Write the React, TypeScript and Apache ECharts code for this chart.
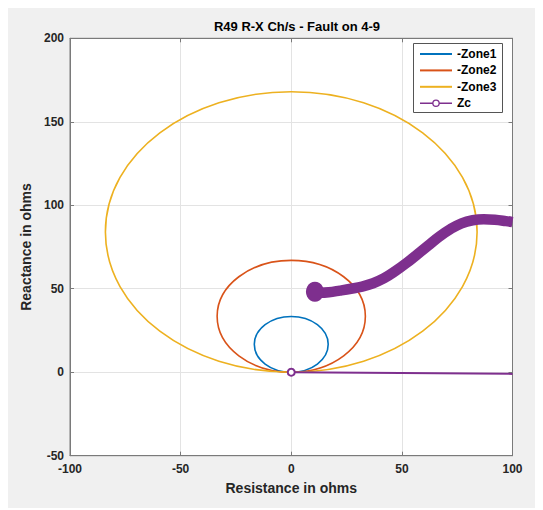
import React, { useEffect, useRef } from "react";
import * as echarts from "echarts";

const TITLE = "R49 R-X Ch/s - Fault on 4-9";
const X_NAME = "Resistance in ohms";
const Y_NAME = "Reactance in ohms";
const LEGEND_NAMES = ["-Zone1", "-Zone2", "-Zone3", "Zc"];
const ZONE_COLORS = ["#0072BD", "#D95319", "#EDB120"];
const ZC_COLOR = "#7E2F8E";

// Zone circles: [centerR, centerX, radius]
const zone1 = [0, 16.7, 16.7];
const zone2 = [0, 33.5, 33.5];
const zone3 = [0, 84, 84];

// Zc trajectory (thick, dense markers)
const zcR = [10.7, 13, 17, 22, 27, 32, 37, 42, 47, 52, 57, 62, 67, 72, 77, 82, 87, 92, 97, 100];
const zcX = [48.2, 47.6, 47.9, 48.9, 50.0, 51.3, 53.3, 56.3, 60.5, 65.3, 70.6, 76.0, 81.3, 85.8, 89.2, 91.0, 91.6, 91.3, 90.5, 89.9];

// Zc thin segment
const zcR2 = [0, 100];
const zcX2 = [0, -1];

const FONT = "Liberation Sans, Arial, Helvetica, sans-serif";

const LINE_ICON = "path://M0,0H32V2H0Z";
const ZC_ICON =
  "path://M0,4.2H12.4V5.8H0Z M19.6,4.2H32V5.8H19.6Z M19.8,5A3.8,3.8,0,1,1,12.2,5A3.8,3.8,0,1,1,19.8,5Z M18.5,5A2.5,2.5,0,1,0,13.5,5A2.5,2.5,0,1,0,18.5,5Z";

export default function App() {
  const ref = useRef<HTMLDivElement>(null);
  useEffect(() => {
    if (!ref.current) return;
    const chart = echarts.init(ref.current, null, { renderer: "svg" });
    const zones = [zone1, zone2, zone3];
    const axisColor = "#7a7a7a";
    const labelStyle = { color: "#262626", fontWeight: "bold" as const, fontSize: 12, fontFamily: FONT };
    const commonX = { type: "value" as const, min: -100, max: 100, interval: 50 };
    const commonY = { type: "value" as const, min: -50, max: 200, interval: 50 };
    const series: any[] = [];
    zones.forEach((z, i) => {
      series.push({
        type: "custom",
        name: LEGEND_NAMES[i],
        coordinateSystem: "cartesian2d",
        data: [z],
        encode: { x: 0, y: 1 },
        itemStyle: { color: ZONE_COLORS[i] },
        renderItem: (params: any, api: any) => {
          const c = api.coord([api.value(0), api.value(1)]);
          const s = api.size([api.value(2), api.value(2)]);
          return {
            type: "ellipse",
            shape: { cx: c[0], cy: c[1], rx: s[0], ry: s[1] },
            style: { fill: "none", stroke: ZONE_COLORS[i], lineWidth: 1.6 },
          };
        },
        z: 2,
      });
    });
    series.push({
      type: "line",
      name: "Zc",
      data: zcR2.map((r, i) =>
        i === 0 ? [r, zcX2[i]] : { value: [r, zcX2[i]], symbol: "none" }
      ),
      color: ZC_COLOR,
      symbol: "emptyCircle",
      symbolSize: 7,
      showSymbol: true,
      itemStyle: { color: ZC_COLOR, borderColor: ZC_COLOR, borderWidth: 1.6 },
      lineStyle: { width: 2, color: ZC_COLOR },
      z: 4,
    });
    series.push({
      type: "line",
      name: "Zc path",
      data: zcR.map((r, i) =>
        i === 0 ? { value: [r, zcX[i]], symbol: "circle", symbolSize: [18, 20] } : [r, zcX[i]]
      ),
      smooth: 0.4,
      symbol: "none",
      showSymbol: true,
      color: ZC_COLOR,
      itemStyle: { color: ZC_COLOR },
      lineStyle: { width: 10.5, color: ZC_COLOR, cap: "butt", join: "round" },
      z: 5,
    });

    chart.setOption({
      animation: false,
      backgroundColor: "#f0f0f0",
      title: {
        text: TITLE,
        left: 284,
        top: 7,
        textAlign: "center",
        textStyle: { fontSize: 13, fontWeight: "bold", color: "#000", fontFamily: FONT },
      },
      graphic: [
        {
          type: "rect",
          left: 405,
          top: 35,
          z: 8,
          shape: { width: 89, height: 69 },
          style: { fill: "#fff", stroke: "#555", lineWidth: 1 },
        },
      ],
      legend: {
        data: [
          { name: LEGEND_NAMES[0], icon: LINE_ICON },
          { name: LEGEND_NAMES[1], icon: LINE_ICON },
          { name: LEGEND_NAMES[2], icon: LINE_ICON },
          {
            name: LEGEND_NAMES[3],
            icon: ZC_ICON,
            itemStyle: { color: ZC_COLOR, borderWidth: 0, borderColor: "transparent" },
            lineStyle: { width: 0 },
          },
        ],
        symbolKeepAspect: true,
        orient: "vertical",
        left: 412,
        top: 40,
        z: 10,
        itemWidth: 32,
        itemHeight: 12,
        itemGap: 4.4,
        padding: 0,
        itemStyle: { borderWidth: 0 },
        textStyle: { fontWeight: "bold", fontSize: 12, color: "#000", fontFamily: FONT },
      },
      grid: {
        left: 62,
        right: 31.5,
        top: 30.3,
        bottom: 52.3,
        show: true,
        backgroundColor: "#fff",
        borderColor: axisColor,
        borderWidth: 1,
      },
      xAxis: [
        {
          ...commonX,
          position: "bottom",
          name: X_NAME,
          nameLocation: "middle",
          nameGap: 25,
          nameTextStyle: { fontSize: 14, fontWeight: "bold", color: "#262626", fontFamily: FONT },
          axisLine: { show: true, onZero: false, lineStyle: { color: axisColor } },
          axisTick: { show: true, inside: true, length: 4, lineStyle: { color: axisColor } },
          axisLabel: { ...labelStyle, margin: 7, showMinLabel: true, showMaxLabel: true },
          splitLine: { show: true, lineStyle: { color: "#e3e3e3", width: 1 } },
        },
        {
          ...commonX,
          position: "top",
          axisLine: { show: true, onZero: false, lineStyle: { color: axisColor } },
          axisTick: { show: true, inside: true, length: 4, lineStyle: { color: axisColor } },
          axisLabel: { show: false },
          splitLine: { show: false },
        },
      ],
      yAxis: [
        {
          ...commonY,
          position: "left",
          name: Y_NAME,
          nameLocation: "middle",
          nameGap: 27,
          nameTextStyle: { fontSize: 14, fontWeight: "bold", color: "#262626", fontFamily: FONT },
          axisLine: { show: true, onZero: false, lineStyle: { color: axisColor } },
          axisTick: { show: true, inside: true, length: 4, lineStyle: { color: axisColor } },
          axisLabel: { ...labelStyle, margin: 6, showMinLabel: true, showMaxLabel: true },
          splitLine: { show: true, lineStyle: { color: "#e3e3e3", width: 1 } },
        },
        {
          ...commonY,
          position: "right",
          axisLine: { show: true, onZero: false, lineStyle: { color: axisColor } },
          axisTick: { show: true, inside: true, length: 4, lineStyle: { color: axisColor } },
          axisLabel: { show: false },
          splitLine: { show: false },
        },
      ],
      series,
    });
    return () => chart.dispose();
  }, []);
  return <div ref={ref} style={{ width: 536, height: 500 }} />;
}
